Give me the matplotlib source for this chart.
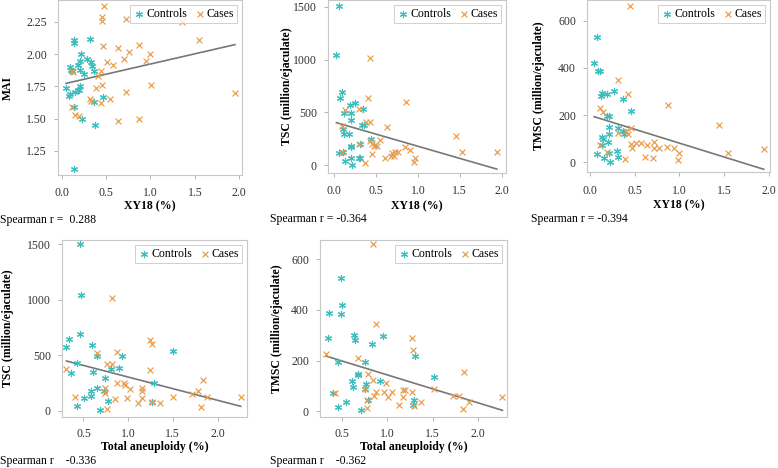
import matplotlib

matplotlib.use("Agg")
import matplotlib.pyplot as plt
import numpy as np

# ---- data ----
# panel 1: MAI vs XY18
mai_ctrl_x = [0.14, 0.14, 0.32, 0.22, 0.21, 0.29, 0.33, 0.34, 0.18, 0.09, 0.11, 0.12, 0.21, 0.25,
              0.37, 0.05, 0.08, 0.10, 0.15, 0.18, 0.21, 0.20, 0.47, 0.36, 0.14, 0.23, 0.38, 0.14]
mai_ctrl_y = [2.11, 2.09, 2.12, 2.00, 1.95, 1.96, 1.94, 1.91, 1.92, 1.90, 1.88, 1.87, 1.88, 1.85,
              1.87, 1.74, 1.68, 1.69, 1.71, 1.72, 1.75, 1.72, 1.67, 1.63, 1.59, 1.50, 1.45, 1.11]
mai_case_x = [0.48, 0.46, 0.45, 0.72, 1.35, 1.55, 0.47, 0.63, 0.76, 0.87, 0.99, 0.95, 0.70, 0.51,
              0.58, 0.44, 0.41, 0.12, 0.13, 0.39, 0.46, 0.73, 1.01, 1.95, 0.32, 0.33, 0.55, 0.44,
              0.12, 0.15, 0.20, 0.64, 0.87]
mai_case_y = [2.37, 2.29, 2.26, 2.27, 2.25, 2.11, 2.06, 2.05, 2.02, 2.07, 2.00, 1.95, 1.96, 1.94,
              1.92, 1.87, 1.83, 1.87, 1.86, 1.74, 1.76, 1.71, 1.76, 1.70, 1.65, 1.64, 1.65, 1.62,
              1.59, 1.53, 1.52, 1.48, 1.50]

# panel 2: TSC vs XY18
tsc_xy_ctrl_x = [0.06, 0.03, 0.10, 0.07, 0.19, 0.25, 0.20, 0.12, 0.20, 0.35, 0.34, 0.36, 0.11,
                 0.12, 0.18, 0.20, 0.20, 0.31, 0.44, 0.06, 0.11, 0.13, 0.22, 0.20, 0.30, 0.31]
tsc_xy_ctrl_y = [1506, 1044, 692, 641, 569, 594, 494, 494, 428, 535, 384, 384, 343,
                 296, 296, 179, 170, 204, 248, 113, 123, 44, 6, 72, 72, 72]
tsc_xy_case_x = [0.43, 0.41, 0.86, 0.13, 0.30, 0.38, 0.43, 0.63, 0.10, 1.45, 0.43, 0.45, 0.55,
                 0.49, 0.48, 0.51, 0.30, 0.85, 0.91, 0.45, 0.61, 0.69, 0.73, 0.72, 0.68, 0.76,
                 0.97, 0.96, 1.53, 1.94, 0.37, 0.10]
tsc_xy_case_y = [1013, 641, 600, 525, 531, 412, 412, 365, 374, 280, 226, 201, 242,
                 195, 179, 179, 201, 176, 148, 107, 69, 116, 123, 85, 85, 123,
                 69, 31, 126, 123, 19, 123]

# panel 3: TMSC vs XY18
tmsc_xy_ctrl_x = [0.08, 0.05, 0.09, 0.12, 0.14, 0.13, 0.19, 0.27, 0.37, 0.46, 0.19, 0.21, 0.21,
                  0.22, 0.14, 0.15, 0.20, 0.32, 0.37, 0.38, 0.30, 0.22, 0.14, 0.08, 0.16, 0.32,
                  0.23]
tmsc_xy_ctrl_y = [530, 420, 388, 385, 294, 280, 288, 301, 268, 216, 195, 195, 150,
                  118, 107, 100, 86, 146, 132, 118, 48, 41, 72, 37, 20, 22, 1]
tmsc_xy_case_x = [0.45, 0.32, 0.43, 0.87, 0.11, 0.15, 0.46, 0.32, 0.41, 0.43, 1.44, 0.46, 0.47,
                  0.52, 0.57, 0.64, 0.72, 0.72, 0.77, 0.86, 0.94, 1.00, 0.98, 0.71, 0.62, 0.39,
                  0.12, 0.19, 1.54, 1.94]
tmsc_xy_case_y = [662, 347, 291, 242, 228, 212, 146, 125, 132, 118, 156, 76, 62,
                  80, 80, 73, 86, 59, 59, 65, 62, 38, 8, 20, 22, 13,
                  73, 45, 38, 55]

# panel 4: TSC vs total aneuploidy
tsc_an_ctrl_x = [0.46, 0.47, 0.34, 0.31, 0.60, 0.65, 0.93, 0.90, 0.81, 0.43, 0.36, 0.61, 0.74,
                 1.50, 1.29, 0.73, 0.65, 0.58, 0.59, 0.51, 0.77, 0.43, 0.69, 1.27, 0.46]
tsc_an_ctrl_y = [1500, 1042, 644, 572, 596, 497, 494, 389, 377, 428, 338, 353, 299,
                 539, 254, 180, 204, 180, 138, 114, 90, 48, 6, 84, 692]
tsc_an_case_x = [0.82, 1.25, 1.27, 0.65, 0.87, 0.76, 0.82, 0.31, 1.25, 1.84, 0.87, 0.95, 0.97,
                 1.02, 1.16, 1.15, 0.74, 0.74, 0.40, 0.85, 0.99, 1.11, 1.16, 1.27, 1.36, 1.50,
                 1.78, 1.71, 1.88, 2.26, 1.82, 0.76]
tsc_an_case_y = [1012, 638, 602, 524, 530, 419, 419, 377, 368, 278, 254, 254, 234,
                 198, 204, 180, 204, 159, 129, 105, 114, 75, 120, 78, 75, 129,
                 183, 153, 129, 123, 33, 21]

# panel 5: TMSC vs total aneuploidy
tmsc_an_ctrl_x = [0.49, 0.50, 0.49, 0.36, 0.35, 0.63, 0.65, 0.83, 0.95, 1.31, 0.46, 0.76, 0.68,
                  0.68, 0.61, 0.62, 0.77, 0.76, 0.92, 0.79, 1.52, 0.40, 0.55, 0.46, 0.71, 1.29,
                  1.28]
tmsc_an_ctrl_y = [526, 418, 383, 388, 289, 300, 283, 267, 296, 217, 195, 195, 149,
                  142, 118, 96, 109, 87, 118, 43, 136, 72, 37, 17, 4, 46,
                  24]
tmsc_an_case_x = [0.84, 0.88, 1.27, 1.28, 0.33, 0.68, 0.79, 0.84, 0.99, 1.52, 1.85, 0.43, 0.76,
                  0.88, 0.97, 1.05, 1.17, 1.20, 1.27, 0.86, 1.01, 1.17, 0.78, 1.13, 1.29, 1.37,
                  1.72, 1.79, 1.90, 2.27, 1.84, 0.78]
tmsc_an_case_y = [659, 343, 291, 241, 225, 212, 149, 125, 113, 89, 155, 74, 89,
                  76, 76, 76, 83, 83, 76, 59, 57, 57, 46, 24, 20, 39,
                  61, 61, 39, 57, 8, 13]

# regression lines (slope, intercept) and Spearman coefficients
fit_slope = [0.158, -229.7, -117.8, -208.7, -110.0]
fit_intercept = [1.766, 410.6, 199.0, 513.7, 253.9]
spearman_text = ["Spearman r =  0.288", "Spearman r = -0.364", "Spearman r = -0.394",
                 "Spearman r    -0.336", "Spearman r    -0.362"]

y_titles = ["MAI", "TSC (million/ejaculate)", "TMSC (million/ejaculate)",
            "TSC (million/ejaculate)", "TMSC (million/ejaculate)"]
x_titles = ["XY18 (%)", "XY18 (%)", "XY18 (%)", "Total aneuploidy (%)", "Total aneuploidy (%)"]

# ---- layout ----
W, H = 778, 468
CTRL = "#3dbdbd"
CASE = "#e89a48"
plt.rcParams["font.family"] = ["Liberation Serif", "DejaVu Serif"]

panels = [
    (mai_ctrl_x, mai_ctrl_y, mai_case_x, mai_case_y),
    (tsc_xy_ctrl_x, tsc_xy_ctrl_y, tsc_xy_case_x, tsc_xy_case_y),
    (tmsc_xy_ctrl_x, tmsc_xy_ctrl_y, tmsc_xy_case_x, tmsc_xy_case_y),
    (tsc_an_ctrl_x, tsc_an_ctrl_y, tsc_an_case_x, tsc_an_case_y),
    (tmsc_an_ctrl_x, tmsc_an_ctrl_y, tmsc_an_case_x, tmsc_an_case_y),
]
# pixel boxes: left, right, top, bottom
boxes = [(58, 242, 0, 175), (328, 506, 0, 173), (587, 770, 0, 172),
         (62, 247, 240, 417), (320, 507, 240, 417)]
xlims = [(-0.04, 2.03), (-0.07, 2.05), (-0.03, 2.01), (0.26, 2.33), (0.26, 2.32)]
ylims = [(1.064, 2.42), (-72, 1563), (-41, 687), (-54, 1536), (-22, 675)]
xticks = [np.arange(0, 2.01, 0.5)] * 3 + [np.arange(0.5, 2.01, 0.5)] * 2
yticks = [[1.25, 1.50, 1.75, 2.00, 2.25], [0, 500, 1000, 1500], [0, 200, 400, 600],
          [0, 500, 1000, 1500], [0, 200, 400, 600]]
ylabel_x = [8, 287, 539, 8, 277]
xlabel_y = [206, 206, 205, 447, 447]
xtick_pad = [6, 6, 6, 5, 5]
spear_pos = [(0, 220), (270, 219), (531, 219), (0, 461), (270, 461)]

fig = plt.figure(figsize=(W / 100, H / 100), dpi=100)
for i, (cx, cy, kx, ky) in enumerate(panels):
    left, right, top, bottom = boxes[i]
    ax = fig.add_axes([left / W, 1 - bottom / H, (right - left) / W, (bottom - top) / H])
    ax.scatter(cx, cy, marker=(6, 2, 0), s=20, color=CTRL, linewidths=0.85, label="Controls", zorder=3)
    ax.scatter(kx, ky, marker="x", s=18, color=CASE, linewidths=0.85, label="Cases", zorder=3)
    all_x = np.concatenate([cx, kx])
    line_x = np.array([all_x.min(), all_x.max()])
    ax.plot(line_x, fit_slope[i] * line_x + fit_intercept[i], color="#777777", lw=1.2, zorder=2)
    ax.set_xlim(*xlims[i])
    ax.set_ylim(*ylims[i])
    ax.set_xticks(xticks[i])
    ax.set_yticks(yticks[i])
    if i == 0:
        ax.set_yticklabels([f"{v:.2f}" for v in yticks[i]])
    ax.set_xticklabels([f"{v:.1f}" for v in xticks[i]])
    ax.tick_params(labelsize=8.5, color="#aaaaaa", length=3, width=0.6, labelcolor="#333333")
    ax.tick_params(axis="y", pad=5)
    ax.tick_params(axis="x", pad=xtick_pad[i])
    for sp in ax.spines.values():
        sp.set_color("#c8c8c8")
        sp.set_linewidth(0.8)
    ax.set_xlabel(x_titles[i], fontsize=8.5, fontweight="bold")
    ax.xaxis.set_label_coords((left + right) / 2 / W, 1 - xlabel_y[i] / H, transform=fig.transFigure)
    ax.xaxis.label.set_verticalalignment("center")
    ax.set_ylabel(y_titles[i], fontsize=8.5, fontweight="bold")
    ax.yaxis.set_label_coords(ylabel_x[i] / W, 1 - (top + bottom) / 2 / H, transform=fig.transFigure)
    ax.yaxis.label.set_verticalalignment("center")
    leg = ax.legend(loc="upper right", fontsize=8.5, frameon=True, fancybox=False, ncol=2,
                    handletextpad=0.1, columnspacing=0.6, borderpad=0.25, handlelength=1.0,
                    borderaxespad=0.4)
    leg.get_frame().set_edgecolor("#bbbbbb")
    leg.get_frame().set_linewidth(0.6)
    sx, sy = spear_pos[i]
    fig.text(sx / W, 1 - sy / H, spearman_text[i], fontsize=8.5, ha="left", va="center")

fig.savefig("out.png", dpi=100)
